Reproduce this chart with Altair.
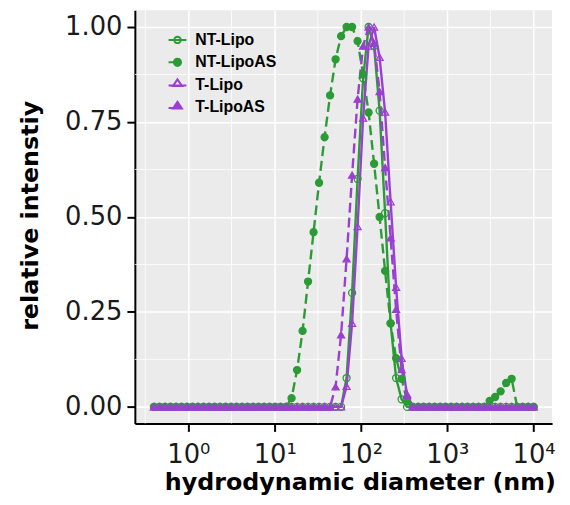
import altair as alt
import pandas as pd

# Size bins (nm) of the instrument
diameter_nm = [
    0.4, 0.4632, 0.5365, 0.6213, 0.7195, 0.8332, 0.9649, 1.117, 1.294, 1.499,
    1.736, 2.010, 2.328, 2.696, 3.122, 3.615, 4.187, 4.849, 5.615, 6.503,
    7.531, 8.721, 10.10, 11.70, 13.54, 15.69, 18.17, 21.04, 24.36, 28.21,
    32.67, 37.84, 43.82, 50.75, 58.77, 68.06, 78.82, 91.28, 105.7, 122.4,
    141.8, 164.2, 190.1, 220.2, 255.0, 295.3, 342.0, 396.1, 458.7, 531.2,
    615.1, 712.4, 825.0, 955.4, 1106, 1281, 1484, 1718, 1990, 2305,
    2669, 3091, 3580, 4145, 4801, 5560, 6439, 7456, 8635, 10000,
]

nt_lipo = [
    0, 0, 0, 0, 0, 0, 0, 0, 0, 0,
    0, 0, 0, 0, 0, 0, 0, 0, 0, 0,
    0, 0, 0, 0, 0, 0, 0, 0, 0, 0,
    0, 0, 0, 0, 0, 0.076, 0.30, 0.60, 0.865, 1.0,
    0.95, 0.78, 0.51, 0.22, 0.076, 0.02, 0, 0, 0, 0,
    0, 0, 0, 0, 0, 0, 0, 0, 0, 0,
    0, 0, 0, 0, 0, 0, 0, 0, 0, 0,
]

nt_lipoas = [
    0, 0, 0, 0, 0, 0, 0, 0, 0, 0,
    0, 0, 0, 0, 0, 0, 0, 0, 0, 0,
    0, 0, 0, 0, 0, 0.023, 0.097, 0.20, 0.33, 0.46,
    0.59, 0.71, 0.82, 0.915, 0.976, 1.0, 1.0, 0.963, 0.875, 0.775,
    0.64, 0.50, 0.358, 0.22, 0.128, 0.074, 0.015, 0, 0, 0,
    0, 0, 0, 0, 0, 0, 0, 0, 0, 0,
    0, 0.016, 0.026, 0.041, 0.063, 0.074, 0, 0, 0, 0,
]

t_lipo = [
    0, 0, 0, 0, 0, 0, 0, 0, 0, 0,
    0, 0, 0, 0, 0, 0, 0, 0, 0, 0,
    0, 0, 0, 0, 0, 0, 0, 0, 0, 0,
    0, 0, 0, 0, 0, 0.054, 0.22, 0.475, 0.76, 0.95,
    1.0, 0.92, 0.776, 0.54, 0.315, 0.128, 0.03, 0, 0, 0,
    0, 0, 0, 0, 0, 0, 0, 0, 0, 0,
    0, 0, 0, 0, 0, 0, 0, 0, 0, 0,
]

t_lipoas = [
    0, 0, 0, 0, 0, 0, 0, 0, 0, 0,
    0, 0, 0, 0, 0, 0, 0, 0, 0, 0,
    0, 0, 0, 0, 0, 0, 0, 0, 0, 0,
    0, 0, 0, 0.053, 0.19, 0.39, 0.61, 0.81, 0.95, 1.0,
    0.957, 0.83, 0.63, 0.445, 0.257, 0.098, 0.033, 0, 0, 0,
    0, 0, 0, 0, 0, 0, 0, 0, 0, 0,
    0, 0, 0, 0, 0, 0, 0, 0, 0, 0,
]

series_names = ["NT-Lipo", "NT-LipoAS", "T-Lipo", "T-LipoAS"]
series_values = [nt_lipo, nt_lipoas, t_lipo, t_lipoas]

GREEN = "#2B9B35"
PURPLE = "#9B3FD3"
series_colors = [GREEN, GREEN, PURPLE, PURPLE]
series_fills = ["transparent", GREEN, "transparent", PURPLE]
series_dash = [[1, 0], [10, 5], [1, 0], [10, 5]]
series_shapes = ["circle", "circle", "triangle-up", "triangle-up"]
series_sizes = [50, 50, 62, 62]

legend_shapes = [
    "M-1,0H1M0.36,0A0.36,0.36,0,1,1,-0.36,0A0.36,0.36,0,1,1,0.36,0Z",
    "M-1,0H0M0.4,0A0.4,0.4,0,1,1,-0.4,0A0.4,0.4,0,1,1,0.4,0Z",
    "M-1,0.1H1M0,-0.6L0.5,0.15L-0.5,0.15Z",
    "M-1,0.1H-0.3M0,-0.6L0.5,0.15L-0.5,0.15Z",
]

x_ticks = [1, 10, 100, 1000, 10000]
x_minor = [0.3162, 3.162, 31.62, 316.2, 3162]
y_ticks = [0, 0.25, 0.5, 0.75, 1.0]
y_minor = [0.125, 0.375, 0.625, 0.875]

rows = []
for name, vals in zip(series_names, series_values):
    for d, v in zip(diameter_nm, vals):
        rows.append({"d": d, "series": name, "value": v})
df = pd.DataFrame(rows)

x_scale = alt.Scale(type="log", domain=[0.23988, 16355], nice=False)
y_scale = alt.Scale(domain=[-0.0436, 1.0443], nice=False, zero=False)

x_axis = alt.Axis(
    values=x_ticks,
    labelExpr="datum.value == 1 ? '10\u2070' : datum.value == 10 ? '10\u00b9' : "
              "datum.value == 100 ? '10\u00b2' : datum.value == 1000 ? '10\u00b3' : '10\u2074'",
    labelFont="DejaVu Sans", labelFontSize=26, labelPadding=10,
    labelFlush=False, labelOverlap=False,
    title="hydrodynamic diameter (nm)",
    titleFont="DejaVu Sans", titleFontWeight="bold", titleFontSize=24,
    titleX=227, titleY=67, titleAlign="center", titleBaseline="alphabetic",
    grid=True,
)
y_axis = alt.Axis(
    values=y_ticks, format=".2f",
    labelFont="DejaVu Sans", labelFontSize=26, labelPadding=5,
    title="relative intenstiy",
    titleFont="DejaVu Sans", titleFontWeight="bold", titleFontSize=24,
    titleX=-98, titleY=207, titleAlign="center", titleBaseline="alphabetic",
    grid=True,
)

X = alt.X("d:Q", scale=x_scale, axis=x_axis)
Y = alt.Y("value:Q", scale=y_scale, axis=y_axis)

grid_x = alt.Chart(pd.DataFrame({"d": x_minor})).mark_rule(
    color="white", strokeWidth=0.8
).encode(x=X)

grid_y = alt.Chart(pd.DataFrame({"value": y_minor})).mark_rule(
    color="white", strokeWidth=0.8
).encode(y=Y)

lines = alt.Chart(df).mark_line(strokeWidth=2.4).encode(
    x=X, y=Y,
    color=alt.Color("series:N", scale=alt.Scale(domain=series_names, range=series_colors), legend=None),
    strokeDash=alt.StrokeDash("series:N", scale=alt.Scale(domain=series_names, range=series_dash), legend=None),
)

points = alt.Chart(df).mark_point(filled=True, strokeWidth=1.3, opacity=1).encode(
    x=X, y=Y,
    stroke=alt.Stroke("series:N", scale=alt.Scale(domain=series_names, range=series_colors), legend=None),
    fill=alt.Fill("series:N", scale=alt.Scale(domain=series_names, range=series_fills), legend=None),
    shape=alt.Shape("series:N", scale=alt.Scale(domain=series_names, range=series_shapes), legend=None),
    size=alt.Size("series:N", scale=alt.Scale(domain=series_names, range=series_sizes), legend=None),
)

leg = alt.Legend(
    title=None, orient="none", legendX=33, legendY=20,
    symbolSize=324, symbolStrokeWidth=2,
    labelFont="Liberation Sans", labelFontWeight="bold", labelFontSize=16,
    labelColor="black", labelOffset=8, rowPadding=4.6, padding=0, labelLimit=300,
)

legend_layer = alt.Chart(df).transform_filter("false").mark_point(
    filled=True, strokeWidth=2, opacity=1
).encode(
    x=X, y=Y,
    stroke=alt.Stroke("series:N", scale=alt.Scale(domain=series_names, range=series_colors), legend=leg),
    fill=alt.Fill("series:N", scale=alt.Scale(domain=series_names, range=series_fills), legend=leg),
    shape=alt.Shape("series:N", scale=alt.Scale(domain=series_names, range=legend_shapes), legend=leg),
)

chart = alt.layer(grid_x, grid_y, lines, points, legend_layer).resolve_scale(
    color="independent", stroke="independent", fill="independent",
    shape="independent", strokeDash="independent", size="independent",
).properties(
    width=421, height=417,
    autosize=alt.AutoSizeParams(type="none"),
    padding={"left": 128, "top": 0, "right": 10, "bottom": 72},
).configure_view(
    fill="#EBEBEB", strokeWidth=0,
).configure_axis(
    domainColor="black", domainWidth=2,
    tickColor="black", tickWidth=2, tickSize=8,
    gridColor="white", gridWidth=1.6,
    labelColor="#1a1a1a", titleColor="black",
)

chart.save("out.html", embed_options={"renderer": "svg", "actions": False})
